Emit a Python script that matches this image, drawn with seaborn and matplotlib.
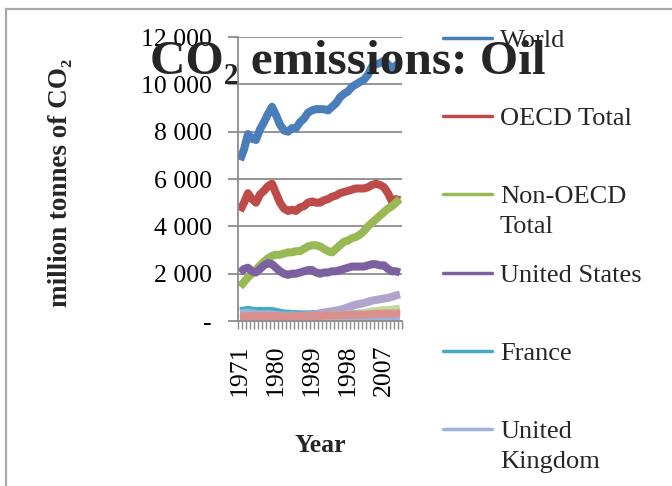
import numpy as np
import pandas as pd
import matplotlib
matplotlib.use("Agg")
import matplotlib.pyplot as plt
import seaborn as sns
from matplotlib.lines import Line2D
from matplotlib.patches import Rectangle
from matplotlib.ticker import FixedLocator, FuncFormatter

# ---- data: CO2 emissions from oil, million tonnes ----
years = list(range(1971, 2012))

world = [6800, 7250, 7900, 7700, 7650, 8100, 8400, 8750, 9050, 8700,
         8300, 8050, 8000, 8150, 8150, 8400, 8550, 8800, 8900, 8950,
         8950, 8950, 8900, 9050, 9200, 9450, 9600, 9700, 9900, 10000,
         10100, 10200, 10400, 10750, 10850, 10900, 11000, 10850, 10600, 10800,
         10900]
oecd = [4650, 5000, 5400, 5150, 5000, 5350, 5500, 5700, 5800, 5400,
        5000, 4750, 4650, 4700, 4650, 4800, 4850, 5000, 5050, 5000,
        5000, 5100, 5150, 5250, 5300, 5400, 5450, 5500, 5550, 5600,
        5600, 5600, 5650, 5750, 5800, 5750, 5650, 5400, 5050, 5150,
        5100]
non_oecd = [1450, 1650, 1850, 2000, 2150, 2350, 2500, 2650, 2750, 2800,
            2800, 2850, 2900, 2900, 2950, 2950, 3050, 3150, 3200, 3200,
            3150, 3050, 2950, 2900, 3050, 3200, 3350, 3400, 3500, 3550,
            3650, 3800, 4000, 4150, 4300, 4450, 4600, 4750, 4850, 5000,
            5150]
united_states = [2050, 2200, 2250, 2100, 2050, 2200, 2350, 2450, 2400, 2250,
                 2100, 2000, 1950, 2000, 2000, 2050, 2100, 2150, 2150, 2050,
                 2000, 2050, 2050, 2100, 2100, 2150, 2200, 2250, 2300, 2300,
                 2300, 2300, 2350, 2400, 2400, 2350, 2350, 2200, 2100, 2100,
                 2050]
france = [420, 440, 470, 440, 410, 430, 420, 430, 420, 390,
          350, 320, 310, 300, 290, 280, 280, 280, 290, 290,
          300, 300, 290, 290, 290, 300, 300, 310, 310, 300,
          310, 300, 300, 300, 300, 290, 290, 280, 270, 270,
          260]
united_kingdom = [320, 330, 350, 320, 290, 280, 280, 290, 280, 250,
                  230, 230, 220, 240, 220, 220, 220, 210, 220, 220,
                  220, 220, 220, 210, 210, 220, 210, 210, 210, 210,
                  210, 210, 210, 210, 210, 210, 210, 200, 190, 190,
                  180]
china = [90, 100, 110, 120, 130, 140, 150, 165, 175, 170,
         170, 170, 175, 185, 200, 210, 225, 240, 250, 280,
         330, 360, 390, 410, 440, 470, 520, 580, 640, 690,
         720, 760, 810, 860, 890, 920, 950, 980, 1020, 1080,
         1120]
india = [70, 75, 80, 80, 85, 90, 95, 100, 110, 110,
         115, 120, 125, 135, 145, 155, 165, 175, 185, 195,
         200, 210, 215, 230, 240, 250, 260, 270, 280, 290,
         310, 330, 370, 400, 420, 440, 450, 460, 480, 500,
         520]
canada = [190, 195, 200, 200, 200, 205, 205, 210, 210, 205,
          200, 195, 195, 200, 200, 200, 205, 210, 215, 215,
          215, 220, 225, 230, 235, 240, 250, 255, 260, 265,
          265, 270, 280, 290, 300, 305, 315, 315, 310, 320,
          330]

series_names = ["World", "OECD Total", "Non-OECD Total", "United States",
                "France", "United Kingdom", "China", "India", "Canada"]
series_values = [world, oecd, non_oecd, united_states, france,
                 united_kingdom, china, india, canada]
legend_labels = ["World", "OECD Total", "Non-OECD\nTotal", "United States",
                 "France", "United\nKingdom"]
series_colors = ["#4A7EBB", "#BE4B48", "#98B954", "#7D60A0", "#46AAC5",
                 "#9DB3DB", "#B0A3CC", "#C3D69B", "#D8918F"]
year_ticks = [1971, 1980, 1989, 1998, 2007]

df = pd.DataFrame({
    "Year": years * len(series_names),
    "Series": [n for n in series_names for _ in years],
    "Value": [v for vals in series_values for v in vals],
})

# ---- style ----
sns.set_theme(style="white")
plt.rcParams["font.family"] = ["Liberation Serif", "DejaVu Serif"]

W, H = 672, 486
fig = plt.figure(figsize=(W / 100, H / 100), dpi=100)
fig.patch.set_facecolor("white")

# chart-area frame
fig.add_artist(Rectangle((6 / W, -0.2), 1.2, 1.2 - 9 / H,
                         transform=fig.transFigure, fill=False,
                         edgecolor="#a9a9a9", lw=1.6, zorder=0))

ax = fig.add_axes([238 / W, 1 - 321 / H, 164 / W, 284 / H])
grid_c = "#8c8c8c"

sns.lineplot(data=df, x="Year", y="Value", hue="Series",
             hue_order=series_names,
             palette=dict(zip(series_names, series_colors)),
             linewidth=5.8, legend=False, sort=False, ax=ax)
for ln in ax.lines:
    ln.set_solid_joinstyle("round")
    ln.set_solid_capstyle("butt")

ax.set_xlim(years[0] - 0.5, years[-1] + 0.5)
ax.set_ylim(0, 12000)
ax.set_yticks(np.arange(0, 12001, 2000))
ax.yaxis.set_major_formatter(FuncFormatter(
    lambda v, p: "-" if v == 0 else f"{int(v):,}".replace(",", " ")))
ax.set_xticks(year_ticks)
ax.set_xticklabels([str(y) for y in year_ticks], rotation=90)
ax.xaxis.set_minor_locator(FixedLocator(np.arange(years[0] - 0.5, years[-1] + 1, 1)))

ax.tick_params(axis="x", which="major", bottom=True, length=0, pad=17,
               labelsize=18.5, labelcolor="black")
ax.tick_params(axis="x", which="minor", bottom=True, length=6, width=1,
               color=grid_c, direction="out")
ax.tick_params(axis="y", which="major", left=True, length=7, width=1.3,
               color=grid_c, pad=12, labelsize=18.5, labelcolor="black")

ax.grid(axis="y", color=grid_c, lw=1.3)
ax.grid(axis="x", visible=False)
ax.set_axisbelow(True)
for s in ["top", "right"]:
    ax.spines[s].set_visible(False)
for s in ["left", "bottom"]:
    ax.spines[s].set_color(grid_c)
    ax.spines[s].set_linewidth(1.3)

ax.set_xlabel("Year", fontsize=18.5, fontweight="bold", va="baseline")
ax.xaxis.set_label_coords(0.5, -(452 - 321) / 284)
ax.set_ylabel("")

fig.text(60 / W, 1 - 183 / H, "million tonnes of CO\u2082", rotation=90,
         ha="center", va="center", fontsize=19.5, fontweight="bold")

# legend (first six series)
for i, lab in enumerate(legend_labels):
    y_px = 38 + i * 78.2
    fy = 1 - y_px / H
    fig.add_artist(Line2D([443 / W, 492 / W], [fy, fy], transform=fig.transFigure,
                          color=series_colors[i], lw=2.5, zorder=2))
    fig.text(500 / W, 1 - (y_px - 8) / H, lab, ha="left", va="top",
             fontsize=19, linespacing=1.45, zorder=3)

fig.text(348 / W, 1 - 74 / H, "CO\u2082 emissions: Oil", ha="center",
         va="baseline", fontsize=35.5, fontweight="bold", zorder=10)

fig.savefig("out.png", dpi=100, facecolor="white")
